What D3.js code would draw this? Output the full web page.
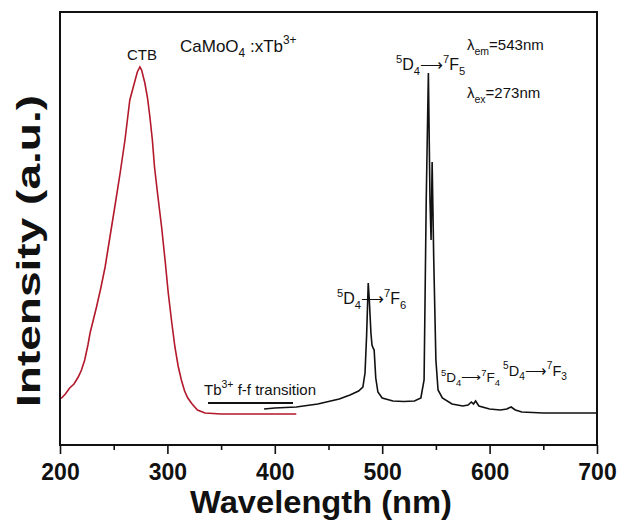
<!DOCTYPE html>
<html><head><meta charset="utf-8">
<script src="https://cdn.jsdelivr.net/npm/d3@7"></script>
<style>body{margin:0;background:#fff}svg{display:block}text{font-family:"Liberation Sans",Arial,sans-serif}</style>
</head><body><svg id="c" width="618" height="521"></svg>
<script>
// Excitation spectrum (red), lambda_em = 543 nm
const excWavelength = [200,201.5,205,209,213,217,220,223,226,228,231,234,238,242,246.5,251,256,260.5,265,268,270,272,274.4,276,279,281.5,283.7,286,288,291,294.6,298,300.8,304,307,310,313,316,319,323,328,335,350,380,420];
const excIntensity  = [47,47,51,57,61,68,75,85,100,112,125,138,157,178,208,238,272,305,345,357,365,373,378,375,362,347,328,305,278,250,218,183,152,123,98,79,65,54,47,41,35,32,31,31,31];
// Emission spectrum (black), lambda_ex = 273 nm
const emWavelength = [390,400,420,440,460,470,478,482,484,485.5,487,488,489.5,490.5,491.5,492.5,494,496,500,510,520,530,536,539,541,543,544.5,545.5,546.5,548,550,552,556,565,575,580,583,585,587,590,600,610,616,620,624,630,650,700];
const emIntensity  = [36,37,38,41,46,50,54,58,72,110,162,145,112,100,97,95,67,53,47,44,43.5,44,47,65,245,372,245,205,283,185,85,55,47,41,39,40,43,41,44,39,36,35,36,38,35,33,32,32];
const xTicks = [200,300,400,500,600,700];
const xMinorTicks = [250,350,450,550,650];

const svg = d3.select("#c");
const L=60,R=597,T=12,B=445;
const x = d3.scaleLinear().domain([200,700]).range([L,R]);
const y = d3.scaleLinear().domain([0,433]).range([B,T]);

const line = d3.line().x(d=>x(d[0])).y(d=>y(d[1]));
svg.append("path").datum(emWavelength.map((w,i)=>[w,emIntensity[i]]))
  .attr("d",line).attr("fill","none").attr("stroke","#111").attr("stroke-width",1.6);
svg.append("path").datum(excWavelength.map((w,i)=>[w,excIntensity[i]]))
  .attr("d",line).attr("fill","none").attr("stroke","#b3182b").attr("stroke-width",1.6);

// frame
svg.append("rect").attr("x",L).attr("y",T).attr("width",R-L).attr("height",B-T)
  .attr("fill","none").attr("stroke","#111").attr("stroke-width",2);

// x axis
const ax = svg.append("g").attr("transform",`translate(0,${B})`)
  .call(d3.axisBottom(x).tickValues(xTicks).tickSize(9).tickFormat(d3.format("d")));
ax.select(".domain").remove();
ax.selectAll(".tick line").attr("stroke","#111").attr("stroke-width",1.6);
ax.selectAll(".tick text").attr("font-size",23).attr("font-weight","bold").attr("fill","#111").attr("dy","1.0em");
const axm = svg.append("g").attr("transform",`translate(0,${B})`)
  .call(d3.axisBottom(x).tickValues(xMinorTicks).tickSize(5).tickFormat(""));
axm.select(".domain").remove();
axm.selectAll(".tick line").attr("stroke","#111").attr("stroke-width",1.6);

svg.append("text").attr("x",321).attr("y",513).attr("text-anchor","middle")
  .attr("font-size",31).attr("font-weight","bold").attr("fill","#111")
  .attr("textLength",262).attr("lengthAdjust","spacingAndGlyphs").text("Wavelength (nm)");
svg.append("text").attr("transform","translate(40,251) rotate(-90)").attr("text-anchor","middle")
  .attr("font-size",33).attr("font-weight","bold").attr("fill","#111")
  .attr("textLength",312).attr("lengthAdjust","spacingAndGlyphs").text("Intensity (a.u.)");

// annotations
function rich(xp,yp,size,parts){
  const t=svg.append("text").attr("x",xp).attr("y",yp).attr("font-size",size).attr("fill","#111");
  parts.forEach(p=>{
    const s=t.append("tspan").text(p.t);
    if(p.sup){s.attr("font-size",size*0.7).attr("dy",-size*0.45);}
    if(p.sub){s.attr("font-size",size*0.7).attr("dy",size*0.3);}
    if(p.back){s.attr("dy",p.back);}
  });
  return t;
}
function trans(xp,yp,size,lo){
  return rich(xp,yp,size,[{t:"5",sup:1},{t:"D",back:size*0.45+""},{t:"4",sub:1},{t:"\u27F6",back:-size*0.3+""},{t:"7",sup:1},{t:"F",back:size*0.45+""},{t:lo,sub:1}]);
}
svg.append("text").attr("x",142).attr("y",60).attr("text-anchor","middle").attr("font-size",15).attr("fill","#111").text("CTB");
rich(180,52,17,[{t:"CaMoO"},{t:"4",sub:1},{t:" :xTb",back:17*-0.3+""},{t:"3+",sup:1}]);
trans(396,70,16,"5");
trans(337,304,16,"6");
trans(441,382,13.5,"4");
trans(503,376,14.5,"3");
rich(467,50,15,[{t:"\u03BB"},{t:"em",sub:1},{t:"=543nm",back:-15*0.3+""}]);
rich(467,98,15,[{t:"\u03BB"},{t:"ex",sub:1},{t:"=273nm",back:-15*0.3+""}]);
rich(204,395,15,[{t:"Tb"},{t:"3+",sup:1},{t:" f-f transition",back:15*0.45+""}]);
svg.append("line").attr("x1",208).attr("x2",293).attr("y1",403).attr("y2",403).attr("stroke","#111").attr("stroke-width",1.8);
</script></body></html>
